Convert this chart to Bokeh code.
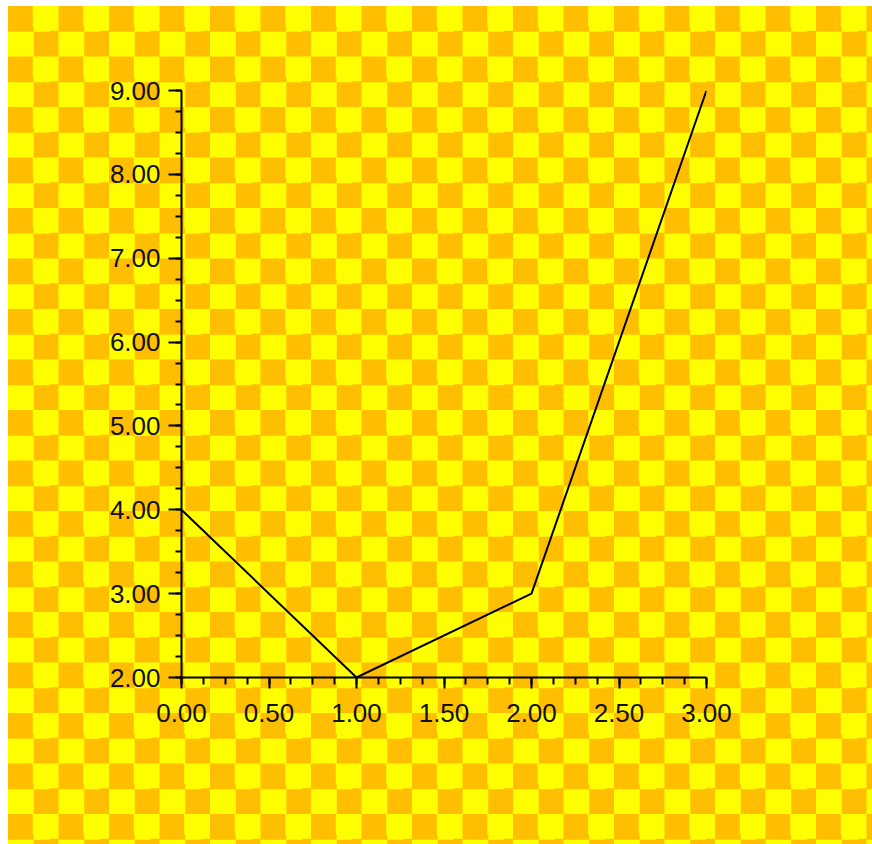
from bokeh.plotting import figure
from bokeh.models import SingleIntervalTicker, NumeralTickFormatter, Range1d
from bokeh.embed import file_html
from bokeh.resources import INLINE

x_values = [0, 1, 2, 3]
y_values = [4, 2, 3, 9]

p = figure(width=864, height=838, output_backend="svg", toolbar_location=None,
           x_range=Range1d(0, 3), y_range=Range1d(2, 9),
           min_border_left=173, min_border_right=166, min_border_top=84, min_border_bottom=167)

p.background_fill_color = None
p.border_fill_color = None
p.outline_line_color = None
p.styles = {
    "margin-left": "8px",
    "margin-top": "6px",
    "background-image": "repeating-conic-gradient(#FFFF00 0% 25%, #FFBF00 0% 50%)",
    "background-size": "50.5px 50.5px",
    "background-position": "0px 0px",
}

p.xgrid.visible = False
p.ygrid.visible = False

p.line(x_values, y_values, line_color="black", line_width=2)

for ax in (p.xaxis[0], p.yaxis[0]):
    ax.axis_line_color = "black"
    ax.axis_line_width = 2
    ax.major_tick_line_color = "black"
    ax.major_tick_line_width = 2
    ax.minor_tick_line_color = "black"
    ax.minor_tick_line_width = 2
    ax.major_tick_in = 0
    ax.minor_tick_in = 0
    ax.major_label_text_font = "Liberation Sans"
    ax.major_label_text_font_size = "26px"
    ax.major_label_text_color = "#111111"
    ax.formatter = NumeralTickFormatter(format="0.00")

p.xaxis[0].ticker = SingleIntervalTicker(interval=0.5, num_minor_ticks=4)
p.yaxis[0].ticker = SingleIntervalTicker(interval=1, num_minor_ticks=4)
p.xaxis[0].major_tick_out = 11
p.xaxis[0].minor_tick_out = 7
p.yaxis[0].major_tick_out = 13
p.yaxis[0].minor_tick_out = 6
p.xaxis[0].major_label_standoff = 15
p.yaxis[0].major_label_standoff = 8

open("out.html", "w").write(file_html(p, INLINE))
